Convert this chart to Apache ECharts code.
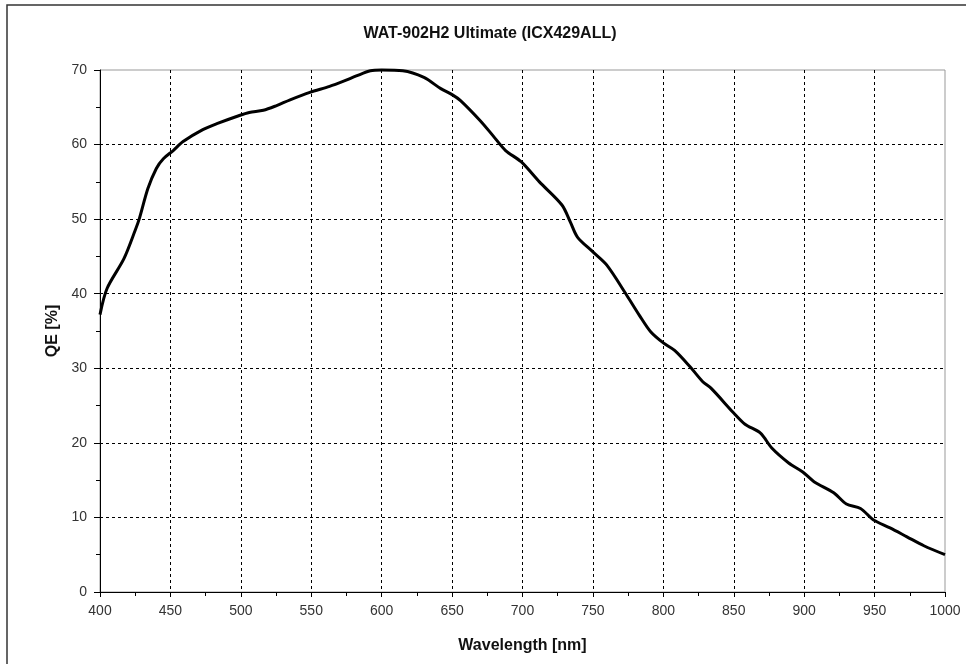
<!DOCTYPE html>
<html>
<head>
<meta charset="utf-8">
<script src="https://cdn.jsdelivr.net/npm/echarts@6/dist/echarts.min.js"></script>
<style>
html,body{margin:0;padding:0;background:#fff;}
#chart{width:966px;height:664px;}
</style>
</head>
<body>
<div id="chart"></div>
<script>
const titleText = 'WAT-902H2 Ultimate (ICX429ALL)';
const xName = 'Wavelength [nm]';
const yName = 'QE [%]';
const wavelength = [400,405,417,425,428,434,440,445,452,459,473,483,499,506,516,525,535,549,563,573,582,592,600,615,630,642,650,656,670,679,688,699,712,728,734,739,750,760,774,783,791,800,808,819,828,834,850,858,869,877,889,899,907,921,930,940,949,961,973,985,1000];
const qe = [37.2,40.7,44.7,48.5,50.1,54.1,56.8,58.1,59.2,60.4,62.0,62.8,63.9,64.3,64.6,65.2,66.0,67.0,67.8,68.5,69.2,69.9,70.0,69.9,69.0,67.5,66.7,65.9,63.2,61.2,59.2,57.7,55.0,51.9,49.6,47.6,45.6,43.8,39.8,37.1,34.9,33.4,32.4,30.2,28.2,27.3,24.0,22.5,21.3,19.3,17.3,16.1,14.8,13.3,11.8,11.2,9.7,8.6,7.4,6.2,5.0];

const FONT = '"Liberation Sans", Arial, sans-serif';
const chart = echarts.init(document.getElementById('chart'));
chart.setOption({
  animation: false,
  backgroundColor: '#fff',
  title: {
    text: titleText,
    left: 485, textAlign: 'center', top: 21,
    textStyle: {fontFamily: FONT, fontSize: 16, fontWeight: 'bold', color: '#111'}
  },
  graphic: [{
    type: 'rect', silent: true, z: -1,
    shape: {x: 7, y: 5, width: 1000, height: 700},
    style: {fill: 'none', stroke: '#333', lineWidth: 1.5}
  }],
  grid: {
    left: 100, right: 21, top: 70, bottom: 72,
    show: true, borderColor: '#999', borderWidth: 1, backgroundColor: '#fff'
  },
  xAxis: {
    type: 'value', min: 400, max: 1000, interval: 50,
    name: xName, nameLocation: 'middle', nameGap: 46,
    nameTextStyle: {fontFamily: FONT, fontSize: 16, fontWeight: 'bold', color: '#111'},
    axisLine: {show: true, onZero: false, lineStyle: {color: '#000', width: 1}},
    axisTick: {show: true, length: 5, lineStyle: {color: '#000'}},
    minorTick: {show: true, splitNumber: 2, length: 4, lineStyle: {color: '#000'}},
    axisLabel: {fontFamily: FONT, fontSize: 14, color: '#333', margin: 12, formatter: v => String(v)},
    splitLine: {show: true, showMinLine: false, showMaxLine: false, lineStyle: {color: '#000', type: [3, 3], width: 1}}
  },
  yAxis: {
    type: 'value', min: 0, max: 70, interval: 10,
    name: yName, nameLocation: 'middle', nameGap: 30, nameRotate: 90,
    nameTextStyle: {fontFamily: FONT, fontSize: 16, fontWeight: 'bold', color: '#111'},
    axisLine: {show: true, onZero: false, lineStyle: {color: '#000', width: 1}},
    axisTick: {show: true, length: 6, lineStyle: {color: '#000'}},
    minorTick: {show: true, splitNumber: 2, length: 4, lineStyle: {color: '#000'}},
    axisLabel: {fontFamily: FONT, fontSize: 14, color: '#333', margin: 13, formatter: v => String(v)},
    splitLine: {show: true, showMinLine: false, showMaxLine: false, lineStyle: {color: '#000', type: [3, 3], width: 1}}
  },
  series: [{
    type: 'line',
    data: wavelength.map((w, i) => [w, qe[i]]),
    showSymbol: false, symbol: 'none',
    smooth: 0.3,
    lineStyle: {color: '#000', width: 3},
    clip: false
  }]
});
</script>
</body>
</html>
